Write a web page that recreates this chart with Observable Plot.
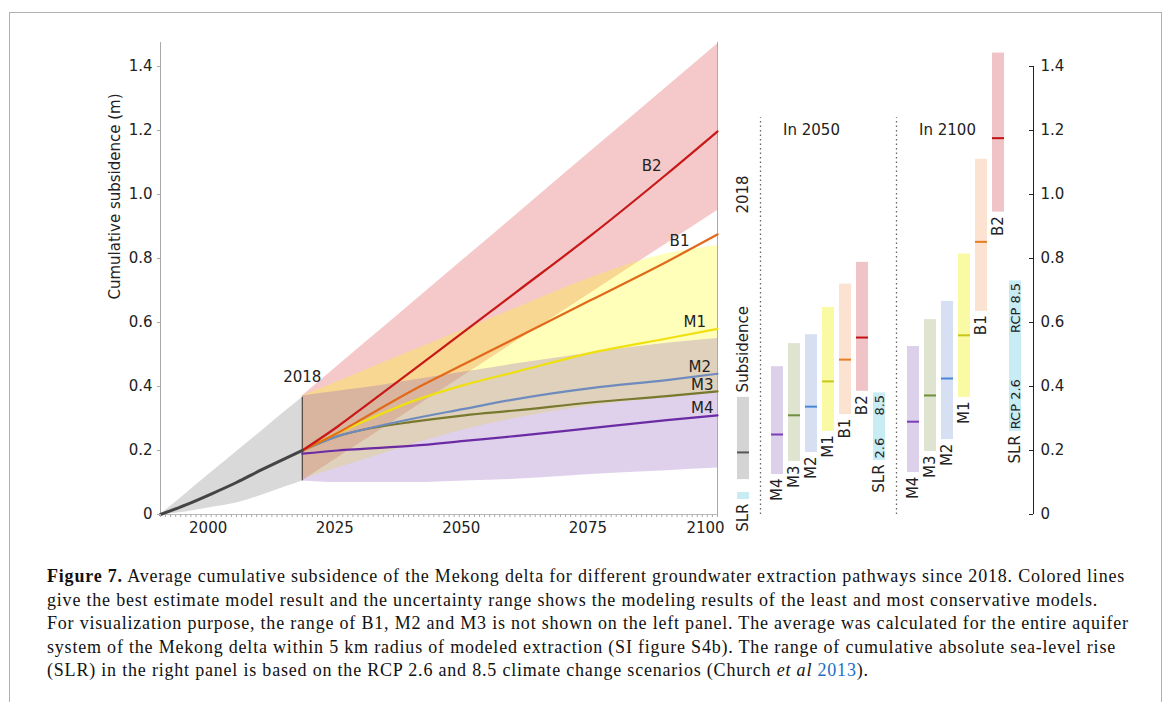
<!DOCTYPE html>
<html>
<head>
<meta charset="utf-8">
<script src="https://cdn.jsdelivr.net/npm/d3@7"></script>
<script src="https://cdn.jsdelivr.net/npm/@observablehq/plot@0.6"></script>
<style>
  html, body { margin: 0; padding: 0; background: #fff; }
  #wrap { position: relative; width: 1168px; height: 702px; overflow: hidden; background: #fff; }
  #frame { position: absolute; left: 9px; top: 12px; width: 1153px; height: 720px; border: 1px solid #b0b0b0; box-sizing: border-box; }
  .panel { position: absolute; top: 0; }
  #caption { position: absolute; left: 47px; top: 565px; width: 1100px; font-family: "Liberation Serif", serif; font-size: 18px; line-height: 23.5px; color: #111; letter-spacing: 0.8px; }
  #caption div { white-space: nowrap; }
  #caption .cite { color: #1a6fc4; }
</style>
</head>
<body>
<div id="wrap">
  <div id="frame"></div>
  <div id="left" class="panel" style="left:0px"></div>
  <div id="right" class="panel" style="left:716px"></div>
  <div id="raxis" class="panel" style="left:1028px"></div>
  <div id="caption">
    <div><b>Figure 7.</b> Average cumulative subsidence of the Mekong delta for different groundwater extraction pathways since 2018. Colored lines</div>
    <div>give the best estimate model result and the uncertainty range shows the modeling results of the least and most conservative models.</div>
    <div>For visualization purpose, the range of B1, M2 and M3 is not shown on the left panel. The average was calculated for the entire aquifer</div>
    <div>system of the Mekong delta within 5 km radius of modeled extraction (SI figure S4b). The range of cumulative absolute sea-level rise</div>
    <div>(SLR) in the right panel is based on the RCP 2.6 and 8.5 climate change scenarios (Church <i>et al</i> <span class="cite">2013</span>).</div>
  </div>
</div>
<script>
// ---------------- DATA ----------------
// Left panel: observed cumulative subsidence up to 2018
const histYears = [1990, 1995, 2000, 2005, 2010, 2015, 2018];
const histMean  = [0, 0.03, 0.064, 0.1, 0.14, 0.178, 0.2];
const histLow   = [0, 0.008, 0.022, 0.036, 0.06, 0.088, 0.105];
const histHigh  = [0, 0.065, 0.131, 0.196, 0.261, 0.327, 0.366];

// Left panel: projections after 2018
const futureYears = [2018, 2025, 2030, 2040, 2050, 2060, 2075, 2090, 2100];
const lineB2 = [0.2, 0.275, 0.334, 0.453, 0.572, 0.692, 0.872, 1.064, 1.197];
const lineB1 = [0.2, 0.255, 0.3, 0.39, 0.47, 0.55, 0.67, 0.79, 0.875];
const lineM1 = [0.2, 0.255, 0.29, 0.355, 0.405, 0.445, 0.505, 0.55, 0.58];
const lineM2 = [0.2, 0.245, 0.265, 0.3, 0.33, 0.36, 0.395, 0.42, 0.44];
const lineM3 = [0.2, 0.245, 0.265, 0.29, 0.31, 0.325, 0.35, 0.37, 0.385];
const lineM4 = [0.19, 0.2, 0.205, 0.215, 0.23, 0.245, 0.27, 0.295, 0.31];
const rangeB2Low  = [0.105, 0.177, 0.229, 0.332, 0.435, 0.538, 0.692, 0.847, 0.95];
const rangeB2High = [0.37, 0.464, 0.531, 0.665, 0.799, 0.933, 1.135, 1.336, 1.47];
const rangeM1Low  = [0.11, 0.145, 0.17, 0.22, 0.265, 0.3, 0.34, 0.365, 0.38];
const rangeM1High = [0.37, 0.415, 0.448, 0.513, 0.578, 0.643, 0.74, 0.815, 0.84];
const rangeM4Low  = [0.105, 0.1, 0.1, 0.1, 0.105, 0.11, 0.125, 0.137, 0.145];
const rangeM4High = [0.37, 0.385, 0.395, 0.42, 0.445, 0.47, 0.505, 0.535, 0.55];

// Line end labels (data coordinates)
const lineLabelText  = ["B2", "B1", "M1", "M2", "M3", "M4"];
const lineLabelYear  = [2087, 2092.5, 2095.5, 2096.5, 2097, 2097];
const lineLabelValue = [1.09, 0.855, 0.6, 0.46, 0.404, 0.333];

// Right panel: ranges and best estimates
const scenarios = ["M4", "M3", "M2", "M1", "B1", "B2"];
const low2050  = [0.125, 0.166, 0.194, 0.26, 0.312, 0.385];
const mid2050  = [0.25, 0.31, 0.337, 0.416, 0.484, 0.553];
const high2050 = [0.462, 0.534, 0.562, 0.647, 0.72, 0.788];
const low2100  = [0.131, 0.197, 0.234, 0.366, 0.635, 0.945];
const mid2100  = [0.29, 0.372, 0.425, 0.56, 0.852, 1.176];
const high2100 = [0.525, 0.609, 0.666, 0.814, 1.11, 1.442];
const subsidence2018 = [0.109, 0.194, 0.366]; // low, best estimate, high
const slrPeriods = ["2018", "2050", "2100"];
const slrLow  = [0.047, 0.169, 0.26];
const slrHigh = [0.069, 0.38, 0.73];

const yTicks = [0, 0.2, 0.4, 0.6, 0.8, 1.0, 1.2, 1.4];
const xTicks = [2000, 2025, 2050, 2075, 2100];

// ---------------- STYLE ----------------
const FONT = "DejaVu Sans";
const lineColor = {B2: "#c81818", B1: "#e2691a", M1: "#efe010", M2: "#6f8bbd", M3: "#78782e", M4: "#6a2ba3"};
const barFill = {M4: "#dcd0eb", M3: "#dee4d0", M2: "#d6e0f2", M1: "#fbfaa4", B1: "#fce2d0", B2: "#f0c4c6", SLR: "#c8ecf4", Subsidence: "#d4d4d4"};
const tickColor = {M4: "#7a3db8", M3: "#6f8f3c", M2: "#4a86d8", M1: "#c8c81a", B1: "#e67e22", B2: "#c40f12", Subsidence: "#555555"};
const H = 545, MT = 42, MB = 31;
const yDomain = [0, 1.475];
const fmt = d => d === 0 ? "0" : d.toFixed(1);
const svgStyle = `background: transparent; overflow: visible; font-family: '${FONT}'; font-size: 15px; color: #222;`;

// ---------------- LEFT PANEL ----------------
const hist = histYears.map((year, i) => ({year, mean: histMean[i], low: histLow[i], high: histHigh[i]}));
const fut = futureYears.map((year, i) => ({
  year,
  B2: lineB2[i], B1: lineB1[i], M1: lineM1[i], M2: lineM2[i], M3: lineM3[i], M4: lineM4[i],
  b2lo: rangeB2Low[i], b2hi: rangeB2High[i],
  m1lo: rangeM1Low[i], m1hi: rangeM1High[i],
  m4lo: rangeM4Low[i], m4hi: rangeM4High[i]
}));
const lineLabels = lineLabelText.map((label, i) => ({label, year: lineLabelYear[i], value: lineLabelValue[i]}));
const last = hist[hist.length - 1];
const series = ["M4", "M3", "M2", "M1", "B1", "B2"];
const lastTick = xTicks[xTicks.length - 1];

const left = Plot.plot({
  width: 730, height: H,
  marginTop: MT, marginBottom: MB, marginLeft: 160, marginRight: 13,
  style: svgStyle,
  x: {domain: [1990, 2100], label: null},
  y: {domain: yDomain, label: null},
  marks: [
    Plot.areaY(hist, {x: "year", y1: "low", y2: "high", fill: "#808080", fillOpacity: 0.3, curve: "monotone-x"}),
    Plot.areaY(fut, {x: "year", y1: "b2lo", y2: "b2hi", fill: "#d62728", fillOpacity: 0.25, curve: "monotone-x"}),
    Plot.areaY(fut, {x: "year", y1: "m1lo", y2: "m1hi", fill: "#ffff00", fillOpacity: 0.27, curve: "monotone-x"}),
    Plot.areaY(fut, {x: "year", y1: "m4lo", y2: "m4hi", fill: "#9467bd", fillOpacity: 0.3, curve: "monotone-x"}),
    Plot.ruleX([last], {x: "year", y1: "low", y2: "high", stroke: "#333", strokeWidth: 1}),
    Plot.ruleX([1990, 2100], {stroke: "#aaa"}),
    Plot.ruleY([0], {stroke: "#bbb"}),
    ...series.map(s => Plot.lineY(fut, {x: "year", y: s, stroke: lineColor[s], strokeWidth: 2.2, curve: "monotone-x"})),
    Plot.lineY(hist, {x: "year", y: "mean", stroke: "#444", strokeWidth: 3, curve: "monotone-x"}),
    Plot.text(lineLabels, {x: "year", y: "value", text: "label", fontSize: 15, fill: "#222"}),
    Plot.text([last], {x: "year", y: () => 0.43, text: d => String(d.year), fontSize: 15, fill: "#222"}),
    Plot.axisX({ticks: d3.range(1990, 2101), tickSize: 3, tickFormat: () => "", stroke: "#aaa", label: null}),
    Plot.axisX({ticks: xTicks.filter(d => d !== lastTick), tickSize: 0, tickPadding: 8, dx: -3, tickFormat: d => String(d), fontSize: 15, fill: "#222", label: null}),
    Plot.axisX({ticks: [lastTick], tickSize: 0, tickPadding: 8, dx: -12, tickFormat: d => String(d), fontSize: 15, fill: "#222", label: null}),
    Plot.axisY({ticks: yTicks, tickSize: 3, tickPadding: 5, tickFormat: fmt, stroke: "#aaa", fontSize: 15, fill: "#222", label: null}),
    Plot.text(["Cumulative subsidence (m)"], {frameAnchor: "left", dx: -45, dy: 21, rotate: -90, fontSize: 15, fill: "#222"})
  ]
});
document.getElementById("left").appendChild(left);

// ---------------- RIGHT PANEL ----------------
const slots = ["2018", "div2050"]
  .concat(scenarios.map(s => "2050 " + s), ["2050 SLR", "div2100"])
  .concat(scenarios.map(s => "2100 " + s), ["2100 SLR"]);

const scenRows = [
  ...scenarios.map((s, i) => ({slot: "2050 " + s, series: s, low: low2050[i], mid: mid2050[i], high: high2050[i]})),
  ...scenarios.map((s, i) => ({slot: "2100 " + s, series: s, low: low2100[i], mid: mid2100[i], high: high2100[i]}))
];
const subsRow = {slot: "2018", series: "Subsidence", low: subsidence2018[0], mid: subsidence2018[1], high: subsidence2018[2]};
const slrRows = slrPeriods.map((p, i) => ({slot: p === "2018" ? "2018" : p + " SLR", period: p, series: "SLR", low: slrLow[i], high: slrHigh[i]}));
const innerLow = {"2050": "2.6", "2100": "RCP 2.6"};
const innerHigh = {"2050": "8.5", "2100": "RCP 8.5"};
const slrInner = slrRows.filter(d => innerLow[d.period]);
const headers = [{slot: "2050 M2", text: "In 2050", value: 1.2}, {slot: "2100 M2", text: "In 2100", value: 1.2}];
const sideHeader = [{slot: "2018", text: "2018", value: 1.0}];

const right = Plot.plot({
  width: 372, height: H,
  marginTop: MT, marginBottom: MB, marginLeft: 9, marginRight: 55,
  style: svgStyle,
  x: {type: "band", domain: slots, paddingInner: 0.32, paddingOuter: 0.4, axis: null},
  y: {domain: yDomain, axis: null},
  color: {type: "identity"},
  marks: [
    Plot.ruleX(["div2050", "div2100"], {y1: 0, y2: 1.24, stroke: "#666", strokeWidth: 1.3, strokeDasharray: "1.5,3"}),
    Plot.barY([subsRow, ...scenRows, ...slrRows], {x: "slot", y1: "low", y2: "high", fill: d => barFill[d.series]}),
    Plot.tickY([subsRow, ...scenRows], {x: "slot", y: "mid", stroke: d => tickColor[d.series], strokeWidth: 2}),
    Plot.text([...scenRows, ...slrRows], {x: "slot", y: "low", text: "series", rotate: -90, textAnchor: "end", dy: 4, fontSize: 15, fill: "#222"}),
    Plot.text([subsRow], {x: "slot", y: "high", text: "series", rotate: -90, textAnchor: "start", dy: -5, fontSize: 15, fill: "#222"}),
    Plot.text(slrInner, {x: "slot", y: "low", text: d => innerLow[d.period], rotate: -90, textAnchor: "start", dy: -2, fontSize: 13, fill: "#222"}),
    Plot.text(slrInner, {x: "slot", y: "high", text: d => innerHigh[d.period], rotate: -90, textAnchor: "end", dy: 2, fontSize: 13, fill: "#222"}),
    Plot.text(headers, {x: "slot", y: "value", text: "text", fontSize: 15, fill: "#222"}),
    Plot.text(sideHeader, {x: "slot", y: "value", text: "text", rotate: -90, fontSize: 15, fill: "#222"})
  ]
});
document.getElementById("right").appendChild(right);

// ---------------- RIGHT AXIS ----------------
const raxis = Plot.plot({
  width: 60, height: H,
  marginTop: MT, marginBottom: MB, marginLeft: 5, marginRight: 55,
  style: svgStyle,
  x: {domain: [0, 1], axis: null},
  y: {domain: yDomain},
  marks: [
    Plot.ruleX([0], {y1: 0, y2: yTicks[yTicks.length - 1], stroke: "#222"}),
    Plot.axisY({anchor: "left", ticks: yTicks, tickSize: 4, tickFormat: () => "", stroke: "#222", label: null}),
    Plot.axisY({anchor: "right", ticks: yTicks, tickSize: 0, tickPadding: 7, tickFormat: fmt, fontSize: 15, fill: "#222", label: null})
  ]
});
document.getElementById("raxis").appendChild(raxis);
</script>
</body>
</html>
